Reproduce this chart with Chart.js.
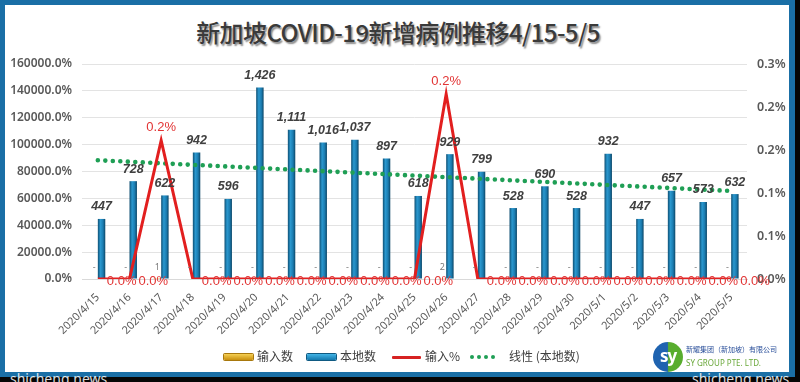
<!DOCTYPE html>
<html>
<head>
<meta charset="utf-8">
<script src="https://cdn.jsdelivr.net/npm/chart.js@4/dist/chart.umd.min.js"></script>
<style>
  html,body{margin:0;padding:0;}
  body{width:800px;height:382px;background:#060606;position:relative;overflow:hidden;font-family:"Noto Sans CJK SC","Noto Sans",sans-serif;}
  #frame{position:absolute;left:0;top:0;width:795px;height:377px;background:#1a6fa6;}
  #inner{position:absolute;left:5px;top:5px;width:784px;height:367px;background:#ffffff;}
  #title{position:absolute;left:0;top:14px;width:796px;text-align:center;font-size:24px;color:#3a3a3a;letter-spacing:-0.6px;
    text-shadow:1.5px 1.5px 1.5px rgba(0,0,0,0.45);font-family:"Noto Sans CJK SC",sans-serif;font-weight:500;}
  canvas{position:absolute;left:0;top:0;}
  .lg{position:absolute;top:348px;font-size:12px;color:#404040;font-family:"Noto Sans CJK SC",sans-serif;line-height:16px;}
  .sw{position:absolute;height:6px;top:354px;border-radius:1px;}
  .dot{position:absolute;top:355px;width:4px;height:4px;border-radius:50%;background:#1f9f55;}
  .wm{position:absolute;color:#ffffff;font-size:14px;font-family:"Noto Sans",sans-serif;top:369px;opacity:0.85;}
</style>
</head>
<body>
<div id="frame"></div>
<div class="wm" style="left:10px;">shicheng.news</div>
<div class="wm" style="left:692px;">shicheng.news</div>
<div id="inner"></div>
<div id="title">新加坡COVID-19新增病例推移4/15-5/5</div>
<canvas id="c" width="800" height="382"></canvas>

<div class="sw" style="left:224px;width:29px;background:linear-gradient(#f5cf52,#c8900f);box-shadow:0 0 0 1px #a8780c;"></div>
<div class="lg" style="left:257px;">输入数</div>
<div class="sw" style="left:307px;width:29px;background:linear-gradient(#41b4e6,#1479ad);box-shadow:0 0 0 1px #0f5a82;"></div>
<div class="lg" style="left:340px;">本地数</div>
<div class="sw" style="left:392px;width:29px;height:3px;top:356px;background:#d62222;"></div>
<div class="lg" style="left:425px;">输入%</div>
<div class="dot" style="left:470px;"></div>
<div class="dot" style="left:477px;"></div>
<div class="dot" style="left:484px;"></div>
<div class="dot" style="left:491px;"></div>
<div class="lg" style="left:509px;">线性 (本地数)</div>

<div style="position:absolute;left:653px;top:342px;width:30px;height:30px;border-radius:50%;background:linear-gradient(90deg,#1f63b0 0%,#1f63b0 48%,#58ad2e 52%,#58ad2e 100%);color:#fff;font:bold 17px 'Noto Sans',sans-serif;line-height:28px;text-align:center;letter-spacing:-1px;">sy</div>
<div style="position:absolute;left:686px;top:344px;font-size:7px;color:#2a4f9a;font-family:'Noto Sans CJK SC',sans-serif;white-space:nowrap;">新耀集团（新加坡）有限公司</div>
<div style="position:absolute;left:686px;top:357px;font-size:8px;color:#6aa83a;font-family:'Noto Sans',sans-serif;white-space:nowrap;">SY GROUP PTE. LTD.</div>

<script>
const categories = ['2020/4/15','2020/4/16','2020/4/17','2020/4/18','2020/4/19','2020/4/20','2020/4/21','2020/4/22','2020/4/23','2020/4/24','2020/4/25','2020/4/26','2020/4/27','2020/4/28','2020/4/29','2020/4/30','2020/5/1','2020/5/2','2020/5/3','2020/5/4','2020/5/5'];
const importCases = [0,0,1,0,0,0,0,0,0,0,0,2,0,0,0,0,0,0,0,0,0];
const localCases = [447,728,622,942,596,1426,1111,1016,1037,897,618,929,799,528,690,528,932,447,657,573,632];
const importPct = [0,0,0.00161,0,0,0,0,0,0,0,0,0.00215,0,0,0,0,0,0,0,0,0];
const trendLocal = [884,null,null,null,null,null,null,null,null,null,null,null,null,null,null,null,null,null,null,null,655];
const leftTickLabels = ['0.0%','20000.0%','40000.0%','60000.0%','80000.0%','100000.0%','120000.0%','140000.0%','160000.0%'];
const rightTickLabels = ['0.0%','0.1%','0.1%','0.2%','0.2%','0.3%'];

const CAT_PCT = 0.47;

function barGradient(c, side, cols) {
  const ch = c.chart;
  const sx = ch.scales && ch.scales.x;
  if (!sx || !ch.chartArea || sx.width === undefined) return cols[1];
  const catW = sx.width / categories.length;
  const bw = catW * CAT_PCT / 2;
  const cx = sx.getPixelForValue(c.dataIndex) + side * bw / 2;
  const g = ch.ctx.createLinearGradient(cx - bw / 2, 0, cx + bw / 2, 0);
  g.addColorStop(0, cols[0]);
  g.addColorStop(0.35, cols[1]);
  g.addColorStop(0.7, cols[2]);
  g.addColorStop(1, cols[3]);
  return g;
}

const labelPlugin = {
  id: 'labels',
  afterDatasetsDraw(chart) {
    const ctx = chart.ctx;
    const y0 = chart.scales.y.getPixelForValue(0);
    ctx.save();
    chart.getDatasetMeta(0).data.forEach((el, i) => {
      const v = importCases[i];
      ctx.font = '9px "Noto Sans", sans-serif';
      ctx.fillStyle = '#7a7a7a';
      ctx.textAlign = 'center';
      ctx.textBaseline = 'middle';
      ctx.fillText(v === 0 ? '-' : String(v), el.x, y0 - 12);
    });
    chart.getDatasetMeta(1).data.forEach((el, i) => {
      ctx.font = 'italic bold 12.5px "Liberation Sans", Arial, sans-serif';
      ctx.fillStyle = '#404040';
      ctx.textAlign = 'center';
      ctx.textBaseline = 'middle';
      ctx.fillText(localCases[i].toLocaleString('en-US'), el.x, el.y - 12);
    });
    chart.getDatasetMeta(2).data.forEach((el, i) => {
      const v = importPct[i];
      ctx.font = '13px "Liberation Sans", Arial, sans-serif';
      ctx.fillStyle = '#e23434';
      ctx.textBaseline = 'middle';
      const t = (Math.round(v * 1000) / 10).toFixed(1) + '%';
      if (v > 0) {
        ctx.textAlign = 'center';
        ctx.fillText(t, el.x, el.y - 13);
      } else {
        ctx.textAlign = 'left';
        ctx.fillText(t, el.x + 9, el.y + 2);
      }
    });
    ctx.restore();
  }
};

new Chart(document.getElementById('c'), {
  type: 'bar',
  data: {
    labels: categories,
    datasets: [
      {
        label: '输入数', type: 'bar', data: importCases, yAxisID: 'y', order: 3,
        backgroundColor: (c) => barGradient(c, -1, ['#b07a08', '#f5cf52', '#d9a520', '#9a6a05']),
        categoryPercentage: CAT_PCT, barPercentage: 1.0
      },
      {
        label: '本地数', type: 'bar', data: localCases, yAxisID: 'y', order: 3,
        backgroundColor: (c) => barGradient(c, 1, ['#0e4f73', '#2a98cf', '#1b7cb0', '#0b4566']),
        categoryPercentage: CAT_PCT, barPercentage: 1.0
      },
      {
        label: '输入%', type: 'line', data: importPct, yAxisID: 'y1', order: 1,
        borderColor: '#e21f1f', borderWidth: 3, pointRadius: 0, tension: 0, fill: false,
        borderJoinStyle: 'miter'
      },
      {
        label: '线性 (本地数)', type: 'line', data: trendLocal, yAxisID: 'y', order: 2,
        borderColor: '#1f9f55', borderWidth: 4.6, pointRadius: 0, spanGaps: true,
        borderDash: [0, 7.5], borderCapStyle: 'round', fill: false
      }
    ]
  },
  options: {
    responsive: false,
    animation: false,
    devicePixelRatio: 1,
    layout: { padding: { left: 0, right: 0, top: 64, bottom: 41 } },
    plugins: { legend: { display: false }, title: { display: false }, tooltip: { enabled: false } },
    scales: {
      x: {
        grid: { display: false, drawTicks: false },
        border: { display: true, color: '#d9d9d9' },
        ticks: {
          autoSkip: false, minRotation: 45, maxRotation: 45, padding: 12,
          color: '#595959', font: { size: 11, family: '"Noto Sans", sans-serif' }
        },
        afterFit(s) { s.height = 62; }
      },
      y: {
        position: 'left', min: 0, max: 1600,
        ticks: {
          stepSize: 200, padding: 10, color: '#595959',
          font: { size: 12, weight: '600', family: '"Noto Sans", sans-serif' },
          callback: (v, i) => leftTickLabels[i]
        },
        grid: { color: '#e3e3e3', drawTicks: false, lineWidth: 1 },
        border: { display: false },
        afterFit(s) { s.width = 82; }
      },
      y1: {
        position: 'right', min: 0, max: 0.0025,
        ticks: {
          stepSize: 0.0005, padding: 10, color: '#595959',
          font: { size: 12.5, weight: '600', family: '"Noto Sans", sans-serif' },
          callback: (v, i) => rightTickLabels[i]
        },
        grid: { display: false, drawTicks: false },
        border: { display: false },
        afterFit(s) { s.width = 53; }
      }
    }
  },
  plugins: [labelPlugin]
});
</script>
</body>
</html>
